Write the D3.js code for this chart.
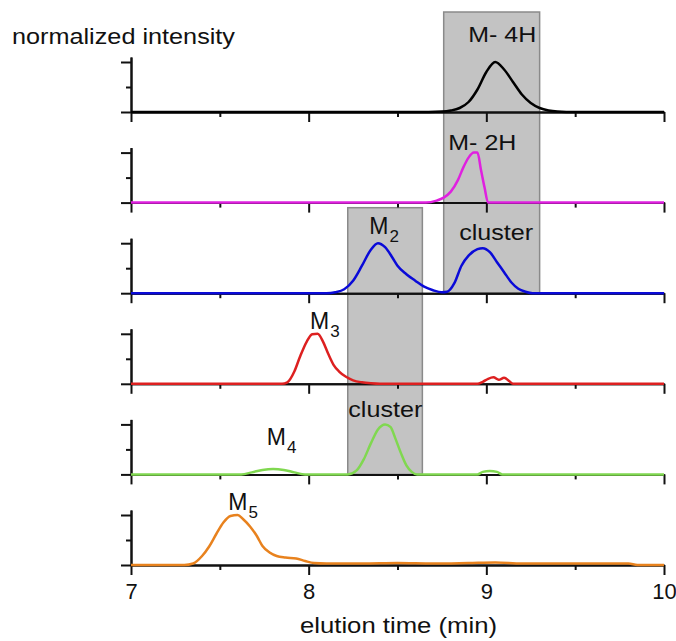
<!DOCTYPE html>
<html>
<head>
<meta charset="utf-8">
<script src="https://cdn.jsdelivr.net/npm/d3@7"></script>
<style>
  body { margin: 0; background: #fff; }
  text { font-family: Arial, "Liberation Sans", sans-serif; fill: #111; }
</style>
</head>
<body>
<script>
// elution time (min) / normalized intensity
const tM4H = [7, 8.6, 8.75, 8.8, 8.85, 8.9, 8.95, 9.0, 9.05, 9.1, 9.15, 9.2, 9.25, 9.3, 9.35, 9.4, 9.5, 10];
const iM4H = [0, 0, 0.01, 0.03, 0.08, 0.2, 0.45, 0.8, 1.0, 0.85, 0.6, 0.35, 0.18, 0.08, 0.03, 0.01, 0, 0];

const tM2H = [7, 8.66, 8.72, 8.76, 8.8, 8.84, 8.87, 8.9, 8.93, 8.95, 8.97, 8.99, 9.01, 10];
const iM2H = [0, 0, 0.04, 0.1, 0.22, 0.45, 0.7, 0.9, 1.0, 1.0, 0.65, 0.3, 0, 0];

const tM2 = [7, 8.1, 8.15, 8.2, 8.25, 8.3, 8.35, 8.39, 8.43, 8.47, 8.5, 8.55, 8.6, 8.65, 8.7, 8.75,
  8.78, 8.82, 8.86, 8.9, 8.95, 8.98, 9.02, 9.06, 9.1, 9.14, 9.18, 9.22, 9.26, 10];
const iM2 = [0, 0, 0.02, 0.08, 0.25, 0.55, 0.87, 1.0, 0.92, 0.72, 0.55, 0.38, 0.25, 0.13, 0.06, 0.02,
  0.03, 0.2, 0.55, 0.75, 0.88, 0.9, 0.82, 0.62, 0.42, 0.22, 0.09, 0.03, 0, 0];

const tM3 = [7, 7.85, 7.88, 7.92, 7.95, 7.99, 8.02, 8.05, 8.08, 8.11, 8.14, 8.17, 8.21, 8.25, 8.3, 8.35, 8.4,
  8.95, 8.98, 9.01, 9.04, 9.07, 9.1, 9.13, 9.15, 10];
const iM3 = [0, 0, 0.03, 0.25, 0.53, 0.85, 0.99, 1.0, 0.85, 0.6, 0.38, 0.25, 0.14, 0.07, 0.03, 0.01, 0,
  0, 0.04, 0.1, 0.13, 0.08, 0.12, 0.05, 0, 0];

const tM4 = [7, 7.62, 7.68, 7.74, 7.8, 7.86, 7.92, 7.98, 8.22, 8.27, 8.31, 8.35, 8.39, 8.43, 8.46, 8.49,
  8.52, 8.55, 8.58, 8.61, 8.95, 8.98, 9.02, 9.06, 9.09, 10];
const iM4 = [0, 0, 0.04, 0.09, 0.11, 0.09, 0.04, 0, 0, 0.08, 0.3, 0.62, 0.9, 1.0, 0.95, 0.7,
  0.42, 0.18, 0.05, 0, 0, 0.05, 0.07, 0.05, 0, 0];

const tM5 = [7, 7.3, 7.35, 7.4, 7.44, 7.48, 7.52, 7.56, 7.6, 7.63, 7.67, 7.71, 7.74, 7.78, 7.82, 7.87, 7.93,
  7.98, 8.03, 8.1, 8.3, 8.5, 8.7, 8.9, 9.05, 9.2, 9.4, 9.6, 9.8, 9.85, 10];
const iM5 = [0, 0, 0.03, 0.18, 0.37, 0.62, 0.85, 0.98, 1.0, 0.92, 0.77, 0.57, 0.38, 0.25, 0.18, 0.15, 0.13,
  0.08, 0.04, 0.03, 0.03, 0.04, 0.03, 0.04, 0.05, 0.03, 0.03, 0.03, 0.03, 0, 0];

const traceColors = ["#000000", "#e020e0", "#0a0ad8", "#dd2020", "#80d850", "#e8821e"];

const xTicks = [7, 8, 9, 10];
const xMinorTicks = [7.5, 8.5, 9.5];
const yTicks = [0, 1];
const yMinorTicks = [0.5];

// shaded windows (min): first panel, last panel
const windowStart = [8.76, 8.22];
const windowEnd = [9.30, 8.64];
const windowTopPanel = [0, 2];
const windowBottomPanel = [2, 4];
const windowTopLevel = [2.0, 1.71];

// peak labels: panel, time, intensity level, text, subscript
const labelPanel = [0, 1, 2, 2, 3, 4, 4, 5];
const labelTime = [8.898, 8.786, 8.341, 8.847, 8.008, 8.223, 7.764, 7.548];
const labelLevel = [1.4, 1.06, 1.19, 1.07, 1.1, 1.14, 0.58, 1.11];
const labelText = ["M- 4H", "M- 2H", "M", "cluster", "M", "cluster", "M", "M"];
const labelSub = ["", "", "2", "", "3", "", "4", "5"];

const traces = [[tM4H, iM4H], [tM2H, iM2H], [tM2, iM2], [tM3, iM3], [tM4, iM4], [tM5, iM5]]
  .map(([t, v], k) => ({ values: t.map((d, j) => [d, v[j]]), color: traceColors[k] }));

const width = 676, height = 641;
const firstBase = 112, panelStep = 90.6, panelHeight = 55;

const svg = d3.select("body").append("svg")
  .attr("width", width)
  .attr("height", height);

svg.append("rect").attr("width", width).attr("height", height).attr("fill", "#fff");

const x = d3.scaleLinear([7, 10], [131, 664]);
const yFor = i => d3.scaleLinear([0, 1.1], [firstBase + i * panelStep, firstBase + i * panelStep - panelHeight]);

// shaded windows first, everything else on top
windowStart.forEach((s, k) => {
  const yTop = yFor(windowTopPanel[k])(windowTopLevel[k]);
  const yBot = yFor(windowBottomPanel[k])(0);
  svg.append("rect")
    .attr("x", x(s))
    .attr("y", yTop)
    .attr("width", x(windowEnd[k]) - x(s))
    .attr("height", yBot - yTop)
    .attr("fill", "#c3c3c3")
    .attr("stroke", "#8a8a8a")
    .attr("stroke-width", 1.5);
});

const line = y => d3.line().x(d => x(d[0])).y(d => y(d[1])).curve(d3.curveMonotoneX);

traces.forEach((tr, i) => {
  const y = yFor(i);
  const g = svg.append("g");
  const base = y(0);

  g.append("g")
    .attr("transform", `translate(0, ${base})`)
    .call(d3.axisBottom(x).tickValues(xTicks).tickSize(10).tickSizeOuter(0).tickPadding(8)
      .tickFormat(i === traces.length - 1 ? d3.format("d") : ""));
  g.append("g")
    .attr("transform", `translate(0, ${base})`)
    .call(d3.axisBottom(x).tickValues(xMinorTicks).tickSize(5).tickSizeOuter(0).tickFormat(""));
  g.append("g")
    .attr("transform", `translate(${x(7)}, 0)`)
    .call(d3.axisLeft(y).tickValues(yTicks).tickSize(10).tickSizeOuter(0).tickFormat(""));
  g.append("g")
    .attr("transform", `translate(${x(7)}, 0)`)
    .call(d3.axisLeft(y).tickValues(yMinorTicks).tickSize(5).tickSizeOuter(0).tickFormat(""));

  g.selectAll("path.domain, .tick line").attr("stroke", "#111").attr("stroke-width", 2);
  g.selectAll(".tick text").attr("font-size", 22).attr("fill", "#111")
    .attr("font-family", "Arial, 'Liberation Sans', sans-serif");

  g.append("path")
    .datum(tr.values)
    .attr("fill", "none")
    .attr("stroke", tr.color)
    .attr("stroke-width", 2.5)
    .attr("stroke-linejoin", "round")
    .attr("d", line(y));
});

labelText.forEach((txt, k) => {
  const y = yFor(labelPanel[k]);
  const t = svg.append("text")
    .attr("x", x(labelTime[k]))
    .attr("y", y(labelLevel[k]))
    .attr("font-size", 22);
  t.append("tspan").attr("font-size", txt === "M" ? 23 : 22).text(txt);
  if (labelSub[k]) {
    t.append("tspan").attr("dx", 1).attr("dy", 8).attr("font-size", 17).text(labelSub[k]);
  }
  if (txt === "cluster") t.attr("textLength", 74).attr("lengthAdjust", "spacingAndGlyphs");
  if (txt.startsWith("M- ")) t.attr("textLength", 68).attr("lengthAdjust", "spacingAndGlyphs");
});

svg.append("text")
  .attr("x", 12)
  .attr("y", 44)
  .attr("font-size", 22)
  .attr("textLength", 223)
  .attr("lengthAdjust", "spacingAndGlyphs")
  .text("normalized intensity");

svg.append("text")
  .attr("x", 300)
  .attr("y", 633)
  .attr("font-size", 22)
  .attr("textLength", 197)
  .attr("lengthAdjust", "spacingAndGlyphs")
  .text("elution time (min)");
</script>
</body>
</html>
